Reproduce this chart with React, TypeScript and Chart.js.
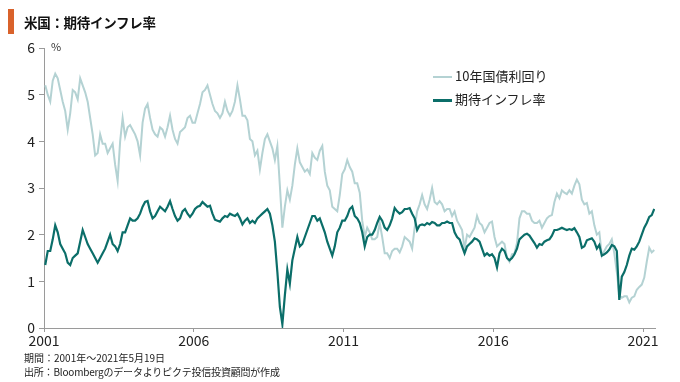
import React, { useEffect, useRef } from "react";
import { Chart, registerables } from "chart.js";

Chart.register(...registerables);

const FONT = "'Noto Sans CJK JP', 'Noto Sans', sans-serif";

const START_YEAR = 2001;
const X_MIN = 2001;
const X_MAX = 2021.4;
const X_TICKS = [2001, 2006, 2011, 2016, 2021];
const Y_TICKS = [0, 1, 2, 3, 4, 5, 6];

const SERIES_NAMES = ["10年国債利回り", "期待インフレ率"];

// 米国10年国債利回り (%), monthly, Jan 2001 – May 2021
const yield10: number[] = [
  5.2, 5.0, 4.85, 5.3, 5.45, 5.35, 5.1, 4.85, 4.65, 4.25, 4.6, 5.1, // 2001
  5.05, 4.9, 5.35, 5.2, 5.05, 4.85, 4.5, 4.15, 3.7, 3.75, 4.15, 3.95, // 2002
  3.95, 3.75, 3.85, 3.95, 3.5, 3.15, 4.0, 4.5, 4.1, 4.3, 4.35, 4.25, // 2003
  4.15, 4.0, 3.7, 4.4, 4.7, 4.8, 4.5, 4.25, 4.15, 4.1, 4.3, 4.25, // 2004
  4.1, 4.3, 4.55, 4.25, 4.05, 3.95, 4.2, 4.25, 4.3, 4.5, 4.55, 4.4, // 2005
  4.4, 4.6, 4.8, 5.05, 5.1, 5.2, 5.0, 4.8, 4.65, 4.6, 4.5, 4.6, // 2006
  4.85, 4.65, 4.55, 4.65, 4.85, 5.2, 4.9, 4.55, 4.55, 4.45, 4.05, 4.0, // 2007
  3.7, 3.8, 3.4, 3.75, 4.05, 4.15, 4.0, 3.85, 3.6, 3.9, 3.05, 2.15, // 2008
  2.6, 2.95, 2.75, 3.05, 3.5, 3.85, 3.55, 3.45, 3.35, 3.4, 3.3, 3.75, // 2009
  3.65, 3.6, 3.8, 3.9, 3.35, 3.05, 2.95, 2.6, 2.55, 2.5, 2.85, 3.3, // 2010
  3.4, 3.6, 3.45, 3.35, 3.1, 3.1, 2.9, 2.3, 1.95, 2.15, 2.05, 1.9, // 2011
  1.9, 1.95, 2.25, 1.95, 1.6, 1.6, 1.5, 1.65, 1.7, 1.7, 1.62, 1.75, // 2012
  1.95, 1.9, 1.85, 1.7, 2.15, 2.5, 2.65, 2.85, 2.65, 2.55, 2.75, 3.0, // 2013
  2.7, 2.65, 2.72, 2.65, 2.5, 2.55, 2.55, 2.4, 2.5, 2.3, 2.2, 2.1, // 2014
  1.7, 2.0, 1.95, 2.05, 2.15, 2.4, 2.25, 2.2, 2.05, 2.15, 2.25, 2.28, // 2015
  1.95, 1.75, 1.8, 1.85, 1.8, 1.5, 1.42, 1.58, 1.6, 1.82, 2.35, 2.5, // 2016
  2.5, 2.45, 2.45, 2.3, 2.25, 2.25, 2.3, 2.15, 2.25, 2.35, 2.4, 2.42, // 2017
  2.7, 2.88, 2.78, 2.95, 2.9, 2.87, 2.95, 2.88, 3.05, 3.18, 3.08, 2.75, // 2018
  2.65, 2.68, 2.45, 2.5, 2.2, 2.0, 2.05, 1.55, 1.65, 1.75, 1.8, 1.9, // 2019
  1.6, 1.2, 0.7, 0.65, 0.68, 0.68, 0.55, 0.65, 0.68, 0.82, 0.88, 0.93, // 2020
  1.08, 1.42, 1.72, 1.62, 1.67, // 2021
];

// 期待インフレ率 (%), monthly, Jan 2001 – May 2021
const breakeven: number[] = [
  1.35, 1.65, 1.65, 1.9, 2.2, 2.05, 1.8, 1.7, 1.6, 1.4, 1.35, 1.5, // 2001
  1.55, 1.6, 1.85, 2.1, 1.95, 1.8, 1.7, 1.6, 1.5, 1.4, 1.5, 1.6, // 2002
  1.7, 1.85, 2.0, 1.8, 1.75, 1.65, 1.8, 2.05, 2.05, 2.2, 2.35, 2.3, // 2003
  2.3, 2.35, 2.45, 2.6, 2.7, 2.72, 2.5, 2.35, 2.4, 2.5, 2.6, 2.55, // 2004
  2.5, 2.6, 2.72, 2.55, 2.4, 2.3, 2.35, 2.5, 2.55, 2.45, 2.38, 2.45, // 2005
  2.55, 2.6, 2.62, 2.7, 2.65, 2.6, 2.62, 2.45, 2.32, 2.3, 2.28, 2.35, // 2006
  2.4, 2.38, 2.45, 2.42, 2.4, 2.45, 2.35, 2.22, 2.3, 2.35, 2.25, 2.3, // 2007
  2.25, 2.35, 2.4, 2.45, 2.5, 2.55, 2.45, 2.2, 1.85, 1.2, 0.45, 0.08, // 2008
  0.7, 1.25, 0.95, 1.45, 1.7, 1.95, 1.75, 1.8, 1.95, 2.1, 2.25, 2.4, // 2009
  2.4, 2.3, 2.35, 2.2, 2.05, 1.85, 1.7, 1.55, 1.75, 2.05, 2.15, 2.3, // 2010
  2.3, 2.4, 2.55, 2.6, 2.4, 2.35, 2.25, 2.05, 1.75, 1.95, 2.0, 2.0, // 2011
  2.1, 2.25, 2.38, 2.3, 2.15, 2.1, 2.2, 2.35, 2.57, 2.5, 2.45, 2.48, // 2012
  2.55, 2.55, 2.57, 2.45, 2.35, 2.1, 2.2, 2.22, 2.2, 2.25, 2.22, 2.27, // 2013
  2.25, 2.2, 2.2, 2.25, 2.25, 2.28, 2.25, 2.25, 2.05, 1.95, 1.9, 1.75, // 2014
  1.6, 1.75, 1.8, 1.85, 1.92, 1.9, 1.85, 1.7, 1.55, 1.6, 1.55, 1.58, // 2015
  1.5, 1.3, 1.6, 1.7, 1.65, 1.5, 1.45, 1.5, 1.58, 1.7, 1.9, 1.95, // 2016
  2.0, 2.02, 1.98, 1.9, 1.82, 1.72, 1.8, 1.78, 1.85, 1.88, 1.9, 1.98, // 2017
  2.1, 2.1, 2.12, 2.15, 2.12, 2.1, 2.12, 2.1, 2.14, 2.05, 1.95, 1.72, // 2018
  1.75, 1.88, 1.9, 1.92, 1.85, 1.7, 1.78, 1.55, 1.58, 1.62, 1.68, 1.78, // 2019
  1.75, 1.65, 0.6, 1.1, 1.2, 1.35, 1.55, 1.7, 1.68, 1.75, 1.85, 2.0, // 2020
  2.15, 2.25, 2.38, 2.42, 2.55, // 2021
];

const monthPos = (i: number) => START_YEAR + (i + 0.5) / 12;

const LIGHT = "#b4d2d3";
const DARK = "#0b6e69";
const AXIS = "#9a9a9a";

export default function App() {
  const ref = useRef<HTMLCanvasElement | null>(null);

  useEffect(() => {
    if (!ref.current) return;
    const chart = new Chart(ref.current, {
      type: "line",
      data: {
        datasets: [
          {
            label: SERIES_NAMES[1],
            data: breakeven.map((v, i) => ({ x: monthPos(i), y: v })),
            borderColor: DARK,
            borderWidth: 2.2,
            pointRadius: 0,
            tension: 0,
            order: 0,
          },
          {
            label: SERIES_NAMES[0],
            data: yield10.map((v, i) => ({ x: monthPos(i), y: v })),
            borderColor: LIGHT,
            borderWidth: 2,
            pointRadius: 0,
            tension: 0,
            order: 1,
          },
        ],
      },
      options: {
        animation: false,
        responsive: false,
        maintainAspectRatio: false,
        layout: { padding: { left: 0, right: 25, top: 48, bottom: 32 } },
        plugins: { legend: { display: false }, tooltip: { enabled: false } },
        scales: {
          x: {
            type: "linear",
            min: X_MIN,
            max: X_MAX,
            afterBuildTicks: (s: any) => {
              s.ticks = X_TICKS.map((v) => ({ value: v }));
            },
            afterFit: (s: any) => {
              s.height = 22;
            },
            ticks: {
              callback: (v: any) => String(v),
              color: "#222",
              font: { size: 14, family: FONT },
              padding: 0,
              maxRotation: 0,
              autoSkip: false,
            },
            grid: {
              display: true,
              drawOnChartArea: false,
              drawTicks: true,
              tickLength: 4,
              color: AXIS,
            },
            border: { display: true, color: AXIS, width: 1 },
          },
          y: {
            min: 0,
            max: 6,
            afterBuildTicks: (s: any) => {
              s.ticks = Y_TICKS.map((v) => ({ value: v }));
            },
            afterFit: (s: any) => {
              s.width = 44;
            },
            ticks: {
              color: "#222",
              font: { size: 14, family: FONT },
              padding: 4,
            },
            grid: {
              display: true,
              drawOnChartArea: false,
              drawTicks: true,
              tickLength: 5,
              color: AXIS,
            },
            border: { display: true, color: AXIS, width: 1 },
          },
        },
      },
    });
    return () => chart.destroy();
  }, []);

  const abs = (s: React.CSSProperties): React.CSSProperties => ({
    position: "absolute",
    fontFamily: FONT,
    whiteSpace: "nowrap",
    ...s,
  });

  return (
    <div
      style={{
        position: "absolute",
        left: 0,
        top: 0,
        width: 680,
        height: 382,
        background: "#fff",
        overflow: "hidden",
      }}
    >
      <canvas
        ref={ref}
        width={680}
        height={382}
        style={{ position: "absolute", left: 0, top: 0, width: 680, height: 382 }}
      />
      <div style={abs({ left: 8, top: 9, width: 6, height: 25, background: "#d9622b" })} />
      <div
        style={abs({
          left: 24,
          top: 12,
          fontSize: 13.5,
          fontWeight: 700,
          color: "#111",
          lineHeight: "20px",
          letterSpacing: -0.3,
        })}
      >
        米国：期待インフレ率
      </div>
      <div style={abs({ left: 51, top: 39, fontSize: 11, color: "#333", lineHeight: "14px" })}>%</div>

      <div style={abs({ left: 433, top: 76, width: 19, height: 2, background: LIGHT })} />
      <div style={abs({ left: 455, top: 67, fontSize: 13, color: "#222", lineHeight: "18px" })}>
        {SERIES_NAMES[0]}
      </div>
      <div style={abs({ left: 433, top: 99, width: 19, height: 2.5, background: DARK })} />
      <div style={abs({ left: 455, top: 90, fontSize: 13, color: "#222", lineHeight: "18px" })}>
        {SERIES_NAMES[1]}
      </div>

      <div style={abs({ left: 24, top: 351, fontSize: 10, color: "#222", lineHeight: "14px" })}>
        期間：2001年～2021年5月19日
      </div>
      <div
        style={abs({
          left: 24,
          top: 365,
          fontSize: 10,
          color: "#222",
          lineHeight: "14px",
          letterSpacing: -0.2,
        })}
      >
        出所：Bloombergのデータよりピクテ投信投資顧問が作成
      </div>
    </div>
  );
}
